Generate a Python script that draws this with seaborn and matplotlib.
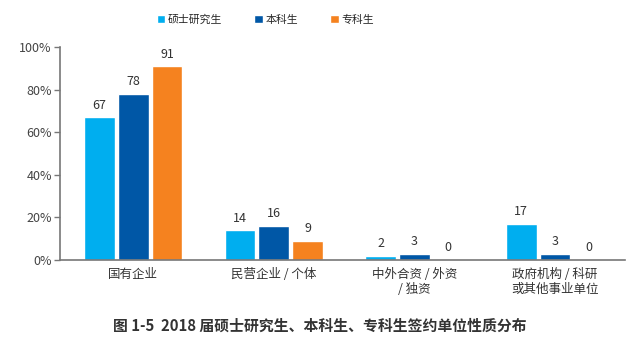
import matplotlib
matplotlib.use("Agg")
import matplotlib.pyplot as plt
import seaborn as sns
import pandas as pd
from matplotlib.ticker import FixedLocator, FuncFormatter

categories = ["国有企业", "民营企业 / 个体", "中外合资 / 外资\n/ 独资", "政府机构 / 科研\n或其他事业单位"]
series_names = ["硕士研究生", "本科生", "专科生"]
master = [67, 14, 2, 17]
bachelor = [78, 16, 3, 3]
college = [91, 9, 0, 0]
colors = ["#00AEEF", "#0057A6", "#F5821F"]
y_ticks = [0, 20, 40, 60, 80, 100]
title = "图 1-5  2018 届硕士研究生、本科生、专科生签约单位性质分布"

rows = []
for name, vals in zip(series_names, [master, bachelor, college]):
    for cat, v in zip(categories, vals):
        rows.append({"单位": cat, "学历": name, "比例": v})
df = pd.DataFrame(rows)

sns.set_theme(style="white")
plt.rcParams["font.family"] = ["Noto Sans CJK SC", "DejaVu Sans"]

fig = plt.figure(figsize=(6.4, 3.41), dpi=100)
ax = fig.add_axes([0.094, 0.2375, 0.883, 0.6245])

sns.barplot(data=df, x="单位", y="比例", hue="学历", hue_order=series_names,
            order=categories, palette=colors, width=0.72, gap=0.09,
            saturation=1, errorbar=None, ax=ax, legend=True)

for cont in ax.containers:
    ax.bar_label(cont, labels=[f"{v:.0f}" for v in cont.datavalues],
                 padding=4, fontsize=9, color="#333333")

ax.set_ylim(0, 100)
ax.set_xlim(-0.52, len(categories) - 0.5)
ax.yaxis.set_major_locator(FixedLocator(y_ticks))
ax.yaxis.set_major_formatter(FuncFormatter(lambda v, p: f"{v:.0f}%"))
ax.set_xlabel("")
ax.set_ylabel("")

# category labels without ticks, separator ticks between groups
ax.tick_params(axis="x", which="major", length=0, labelsize=9, colors="#333333", pad=6)
ax.set_xticks([i + 0.5 for i in range(0, len(categories))], minor=True)
ax.tick_params(axis="x", which="minor", length=5, width=1, color="#777777", direction="out")
ax.tick_params(axis="y", which="major", length=4, width=1, color="#777777",
               direction="out", labelsize=9, labelcolor="#444444", left=True, pad=2)

for side in ["top", "right"]:
    ax.spines[side].set_visible(False)
for side in ["left", "bottom"]:
    ax.spines[side].set_color("#777777")
    ax.spines[side].set_linewidth(1.2)

handles, labels = ax.get_legend_handles_labels()
ax.legend(handles, labels, loc="center", bbox_to_anchor=(0.363, 1.13), ncol=3,
          frameon=False, fontsize=7.8, handlelength=0.8, handleheight=0.8,
          handletextpad=0.2, columnspacing=3.0)

fig.text(0.5, 0.045, title, ha="center", va="center", fontsize=10.7,
         fontweight="bold", color="#333333")

fig.savefig("out.png", dpi=100, facecolor="white")
